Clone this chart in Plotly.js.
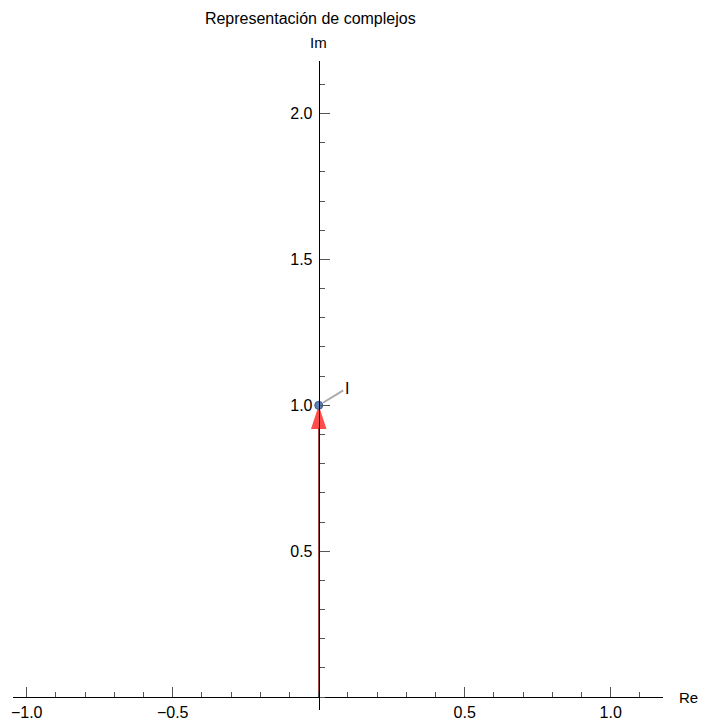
<!DOCTYPE html>
<html>
<head>
<meta charset="utf-8">
<script src="https://cdn.plot.ly/plotly-3.0.1.min.js"></script>
<style>html,body{margin:0;padding:0;background:#fff;}</style>
</head>
<body>
<div id="chart" style="width:702px;height:727px;"></div>
<script>
// ---- data ----
const vecRe = [0, 0];
const vecIm = [0, 1];
const pointRe = [0];
const pointIm = [1];
const pointLabels = ['I'];
const xTickVals = [-1, -0.5, 0.5, 1];
const xTickText = ['\u22121.0', '\u22120.5', '0.5', '1.0'];
const yTickVals = [0.5, 1, 1.5, 2];
const yTickText = ['0.5', '1.0', '1.5', '2.0'];
const xRange = [-1.047, 1.179];
const yRange = [-0.044, 2.18];
const chartTitle = 'Representación de complejos';
const xLabel = 'Re';
const yLabel = 'Im';

const font = 'Liberation Sans, Arial, sans-serif';

const traces = [
  {
    x: vecRe, y: vecIm, type: 'scatter', mode: 'lines+markers',
    line: {color: '#8b1a1a', width: 1},
    marker: {symbol: 'arrow', size: [0, 25], angleref: 'previous', color: '#ff0000', line: {width: 0}},
    hoverinfo: 'skip', showlegend: false
  },
  {
    x: pointRe, y: pointIm, type: 'scatter', mode: 'markers',
    marker: {size: 8, color: '#5e81b5', line: {color: '#3c5a8a', width: 1}},
    showlegend: false
  }
];

const xPos = (0 - yRange[0]) / (yRange[1] - yRange[0]);
const yPos = (0 - xRange[0]) / (xRange[1] - xRange[0]);

const axisCommon = {
  showgrid: false, zeroline: false, showline: true, linecolor: '#000', linewidth: 1,
  ticks: 'inside', ticklen: 10, tickcolor: '#555', tickwidth: 1,
  tickfont: {family: font, size: 16, color: '#000'},
  tickmode: 'array', fixedrange: true
};

const layout = {
  width: 702, height: 727,
  margin: {l: 13, r: 39, t: 61, b: 17},
  paper_bgcolor: '#fff', plot_bgcolor: '#fff',
  showlegend: false,
  title: {text: chartTitle, font: {family: font, size: 16, color: '#000'},
          x: 0.442, xanchor: 'center', xref: 'container', y: 0.975, yanchor: 'middle', yref: 'container'},
  xaxis: Object.assign({}, axisCommon, {
    range: xRange, anchor: 'free', position: xPos,
    tickvals: xTickVals, ticktext: xTickText, ticklabelstandoff: 1,
    minor: {dtick: 0.1, tick0: 0, ticks: 'inside', ticklen: 5, tickcolor: '#555'}
  }),
  yaxis: Object.assign({}, axisCommon, {
    range: yRange, anchor: 'free', position: yPos,
    tickvals: yTickVals, ticktext: yTickText, ticklabelstandoff: 3,
    minor: {dtick: 0.1, tick0: 0, ticks: 'inside', ticklen: 5, tickcolor: '#555'}
  }),
  annotations: [
    {x: 1, xref: 'paper', y: 0, yref: 'y', text: xLabel, showarrow: false,
     xanchor: 'left', yanchor: 'middle', xshift: 14, font: {family: font, size: 15, color: '#000'}},
    {x: 0, xref: 'x', y: 1, yref: 'paper', text: yLabel, showarrow: false,
     xanchor: 'center', yanchor: 'bottom', yshift: 8, font: {family: font, size: 15, color: '#000'}},
    {x: pointRe[0], y: pointIm[0], xref: 'x', yref: 'y', text: pointLabels[0], showarrow: true,
     ax: 28, ay: -17, arrowhead: 0, arrowcolor: '#aaaaaa', arrowwidth: 2, standoff: 5,
     font: {family: font, size: 16, color: '#000'}}
  ]
};

Plotly.newPlot('chart', traces, layout, {displayModeBar: false, staticPlot: true});
</script>
</body>
</html>
